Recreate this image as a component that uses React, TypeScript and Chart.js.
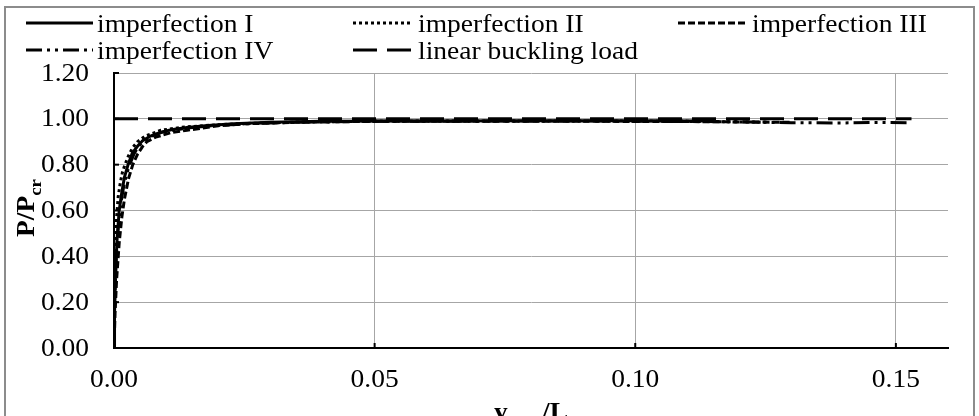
import React, { useEffect, useRef } from "react";
import { Chart, registerables } from "chart.js";

Chart.register(...registerables);

const SERIES_NAMES = ["imperfection I", "imperfection II", "imperfection III", "imperfection IV", "linear buckling load"];

const X_I = [0, 0.0001, 0.0003, 0.0006, 0.001, 0.0015, 0.002, 0.0027, 0.0035, 0.0045, 0.0055, 0.007, 0.009, 0.011, 0.014, 0.018, 0.023, 0.03, 0.04, 0.06, 0.08, 0.1, 0.115];
const Y_I = [0, 0.15, 0.33, 0.48, 0.6, 0.68, 0.745, 0.8, 0.85, 0.88, 0.905, 0.925, 0.942, 0.952, 0.962, 0.971, 0.979, 0.985, 0.989, 0.991, 0.992, 0.992, 0.991];

const X_II = [0, 0.0001, 0.0003, 0.0005, 0.0008, 0.0012, 0.0016, 0.0021, 0.0028, 0.0036, 0.0045, 0.006, 0.009, 0.013, 0.017, 0.024, 0.035, 0.05, 0.08, 0.11, 0.125];
const Y_II = [0, 0.25, 0.45, 0.57, 0.66, 0.72, 0.765, 0.8, 0.84, 0.875, 0.9, 0.925, 0.95, 0.963, 0.97, 0.979, 0.986, 0.99, 0.991, 0.99, 0.985];

const X_III = [0, 0.0002, 0.0005, 0.001, 0.0015, 0.002, 0.0028, 0.0036, 0.0045, 0.0055, 0.0063, 0.008, 0.011, 0.014, 0.017, 0.02, 0.025, 0.035, 0.05, 0.08, 0.11, 0.13];
const Y_III = [0, 0.15, 0.3, 0.46, 0.57, 0.65, 0.74, 0.8, 0.845, 0.88, 0.9, 0.92, 0.94, 0.95, 0.96, 0.97, 0.978, 0.985, 0.989, 0.99, 0.988, 0.985];

const X_IV = [0, 0.0001, 0.0004, 0.0008, 0.0013, 0.0019, 0.0025, 0.003, 0.0038, 0.0047, 0.0055, 0.007, 0.009, 0.011, 0.015, 0.019, 0.026, 0.035, 0.05, 0.07, 0.09, 0.12, 0.13, 0.14, 0.145, 0.153];
const Y_IV = [0, 0.2, 0.38, 0.52, 0.63, 0.71, 0.765, 0.8, 0.845, 0.88, 0.9, 0.922, 0.94, 0.95, 0.962, 0.97, 0.979, 0.985, 0.989, 0.99, 0.991, 0.987, 0.983, 0.982, 0.984, 0.983];

const X_LIN = [0, 0.153];
const Y_LIN = [1.0, 1.0];

const X_MIN = 0;
const X_MAX = 0.16;
const X_TICKS = [0, 0.05, 0.1, 0.15];
const Y_MIN = 0;
const Y_MAX = 1.2;
const Y_TICKS = [0, 0.2, 0.4, 0.6, 0.8, 1.0, 1.2];

const FONT = '"Liberation Serif", "Times New Roman", serif';
const STRETCH = 1.1;

const DASHES: number[][] = [[], [3, 3], [7, 3], [16, 5, 3, 5, 3, 5], [24, 10]];

function pts(xs: number[], ys: number[]) {
  return xs.map((x, i) => ({ x, y: ys[i] }));
}

const LEGEND_POS = [
  { x0: 26, x1: 93, tx: 97, y: 23 },
  { x0: 353, x1: 412, tx: 418, y: 23 },
  { x0: 678, x1: 748, tx: 752, y: 23 },
  { x0: 26, x1: 93, tx: 97, y: 50 },
  { x0: 353, x1: 412, tx: 418, y: 50 },
];

function stretchedText(ctx: CanvasRenderingContext2D, text: string, x: number, y: number, align: "left" | "right" | "center") {
  const w = ctx.measureText(text).width * STRETCH;
  let left = x;
  if (align === "right") left = x - w;
  else if (align === "center") left = x - w / 2;
  ctx.save();
  ctx.translate(left, y);
  ctx.scale(STRETCH, 1);
  ctx.textAlign = "left";
  ctx.fillText(text, 0, 0);
  ctx.restore();
  return w;
}

const decor = {
  id: "decor",
  beforeDraw(chart: any) {
    const ctx = chart.ctx;
    ctx.save();
    ctx.fillStyle = "#fff";
    ctx.fillRect(0, 0, chart.width, chart.height);
    ctx.strokeStyle = "#8c8c8c";
    ctx.lineWidth = 2;
    ctx.strokeRect(5, 7, 969, 430);
    ctx.restore();
  },
  afterDraw(chart: any) {
    const ctx = chart.ctx as CanvasRenderingContext2D;
    const ca = chart.chartArea;
    const xs = chart.scales.x;
    const ys = chart.scales.y;
    ctx.save();
    // inner tick marks
    ctx.strokeStyle = "#000";
    ctx.lineWidth = 2;
    ys.ticks.forEach((t: any) => {
      const y = ys.getPixelForValue(t.value);
      ctx.beginPath();
      ctx.moveTo(ca.left, y);
      ctx.lineTo(ca.left + 5, y);
      ctx.stroke();
    });
    xs.ticks.forEach((t: any) => {
      const x = xs.getPixelForValue(t.value);
      ctx.beginPath();
      ctx.moveTo(x, ca.bottom);
      ctx.lineTo(x, ca.bottom - 5);
      ctx.stroke();
    });
    // tick labels
    ctx.fillStyle = "#000";
    ctx.font = `25px ${FONT}`;
    ctx.textBaseline = "middle";
    Y_TICKS.forEach((v) => {
      stretchedText(ctx, v.toFixed(2), 89, ys.getPixelForValue(v) + 1, "right");
    });
    ctx.textBaseline = "alphabetic";
    X_TICKS.forEach((v) => {
      stretchedText(ctx, v.toFixed(2), xs.getPixelForValue(v), 387, "center");
    });
    // legend
    ctx.font = `25px ${FONT}`;
    ctx.textBaseline = "middle";
    SERIES_NAMES.forEach((name, i) => {
      const p = LEGEND_POS[i];
      ctx.strokeStyle = "#000";
      ctx.lineWidth = 3;
      ctx.setLineDash(DASHES[i]);
      ctx.beginPath();
      ctx.moveTo(p.x0, p.y);
      ctx.lineTo(p.x1, p.y);
      ctx.stroke();
      ctx.setLineDash([]);
      ctx.fillStyle = "#000";
      stretchedText(ctx, name, p.tx, p.y + 2, "left");
    });
    // y title
    ctx.save();
    ctx.translate(34, 237);
    ctx.rotate(-Math.PI / 2);
    ctx.textBaseline = "alphabetic";
    ctx.font = `bold 25px ${FONT}`;
    const w1 = stretchedText(ctx, "P/P", 0, 0, "left");
    ctx.font = `bold 17px ${FONT}`;
    stretchedText(ctx, "cr", w1, 7, "left");
    ctx.restore();
    // x title
    ctx.textBaseline = "alphabetic";
    ctx.font = `bold 25px ${FONT}`;
    const wy = ctx.measureText("y").width * STRETCH;
    const wl = ctx.measureText("/L").width * STRETCH;
    ctx.font = `bold 17px ${FONT}`;
    const wm = ctx.measureText("max").width * STRETCH;
    const total = wy + wm + wl;
    let x = (ca.left + ca.right) / 2 - total / 2;
    const by = 420;
    ctx.font = `bold 25px ${FONT}`;
    stretchedText(ctx, "y", x, by, "left");
    x += wy;
    ctx.font = `bold 17px ${FONT}`;
    stretchedText(ctx, "max", x, by + 6, "left");
    x += wm;
    ctx.font = `bold 25px ${FONT}`;
    stretchedText(ctx, "/L", x, by, "left");
    ctx.restore();
  },
};

export default function App() {
  const ref = useRef<HTMLCanvasElement | null>(null);
  useEffect(() => {
    if (!ref.current) return;
    const lineSets = [
      pts(X_I, Y_I),
      pts(X_II, Y_II),
      pts(X_III, Y_III),
      pts(X_IV, Y_IV),
      pts(X_LIN, Y_LIN),
    ];
    const chart = new Chart(ref.current, {
      type: "scatter",
      data: {
        datasets: lineSets.map((d, i) => ({
          label: SERIES_NAMES[i],
          data: d,
          showLine: true,
          pointRadius: 0,
          borderColor: "#000",
          borderWidth: 3,
          borderDash: DASHES[i],
          fill: false,
          tension: 0,
        })),
      },
      options: {
        responsive: false,
        animation: false,
        devicePixelRatio: 1,
        layout: { padding: { top: 73, right: 31, left: 0, bottom: 0 } },
        plugins: { legend: { display: false }, tooltip: { enabled: false }, title: { display: false } },
        scales: {
          x: {
            type: "linear",
            min: X_MIN,
            max: X_MAX,
            afterBuildTicks: (scale: any) => {
              scale.ticks = X_TICKS.map((v) => ({ value: v }));
            },
            afterFit: (scale: any) => {
              scale.height = 68;
            },
            ticks: { display: false },
            grid: { color: "#a6a6a6", lineWidth: 1, drawTicks: false },
            border: { display: true, color: "#000", width: 2 },
          },
          y: {
            type: "linear",
            min: Y_MIN,
            max: Y_MAX,
            afterBuildTicks: (scale: any) => {
              scale.ticks = Y_TICKS.map((v) => ({ value: v }));
            },
            afterFit: (scale: any) => {
              scale.width = 114;
            },
            ticks: { display: false },
            grid: { color: "#a6a6a6", lineWidth: 1, drawTicks: false },
            border: { display: true, color: "#000", width: 2 },
          },
        },
      },
      plugins: [decor],
    } as any);
    return () => chart.destroy();
  }, []);
  return (
    <div style={{ position: "fixed", left: 0, top: 0, width: 979, height: 416, background: "#fff" }}>
      <canvas ref={ref} width={979} height={416} style={{ display: "block", width: 979, height: 416 }} />
    </div>
  );
}
